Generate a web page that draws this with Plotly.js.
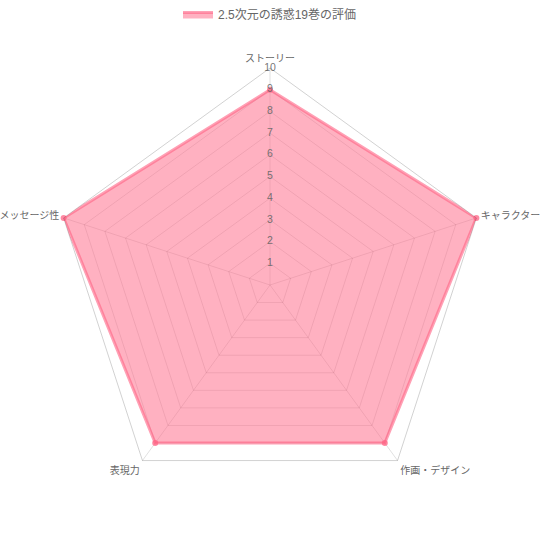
<!DOCTYPE html>
<html><head><meta charset="utf-8">
<script src="https://cdn.plot.ly/plotly-3.0.1.min.js"></script>
<style>html,body{margin:0;padding:0;background:#fff}#chart{width:540px;height:540px}</style>
</head><body><div id="chart"></div>
<script>
const categories = ['ストーリー', 'キャラクター', '作画・デザイン', '表現力', 'メッセージ性'];
const values = [9, 10, 9, 9, 10];
const seriesName = '2.5次元の誘惑19巻の評価';
const tickValues = [1, 2, 3, 4, 5, 6, 7, 8, 9, 10];
const tickLabels = ['1', '2', '3', '4', '5', '6', '7', '8', '9', '10'];

const font = '"Liberation Sans", Arial, "Noto Sans CJK JP", sans-serif';
const gridCol = 'rgba(0,0,0,0.12)';

const data = [
  {
    type: 'scatterpolar',
    r: values.concat([values[0]]),
    theta: categories.concat([categories[0]]),
    name: seriesName,
    mode: 'lines',
    fill: 'toself',
    fillcolor: 'rgba(255,99,132,0.5)',
    line: {color: 'rgba(255,99,132,0.6)', width: 3},
    hoverinfo: 'skip'
  },
  {
    type: 'scatterpolar',
    r: values,
    theta: categories,
    mode: 'markers',
    marker: {color: 'rgba(255,99,132,0.75)', size: 6},
    showlegend: false,
    hoverinfo: 'skip'
  },
  {
    type: 'scatterpolar',
    r: tickValues,
    theta: tickValues.map(() => categories[0]),
    text: tickLabels,
    mode: 'text',
    textposition: 'middle center',
    textfont: {family: font, size: 10.5, color: 'rgba(102,102,102,0.9)'},
    showlegend: false,
    hoverinfo: 'skip',
    cliponaxis: false
  }
];

const layout = {
  width: 540, height: 540,
  margin: {l: 53, r: 53, t: 68, b: 38},
  paper_bgcolor: '#fff',
  font: {family: font, color: '#666', size: 12},
  showlegend: true,
  legend: {
    orientation: 'h', x: 0.5, xanchor: 'center',
    yref: 'container', y: 1, yanchor: 'top',
    font: {family: font, size: 12, color: '#666'}
  },
  polar: {
    domain: {x: [0, 1], y: [0, 1]},
    bgcolor: '#fff',
    gridshape: 'linear',
    radialaxis: {
      range: [0, 10], dtick: 1, tick0: 0,
      showticklabels: false, ticks: '',
      showline: false, gridcolor: gridCol, gridwidth: 1
    },
    angularaxis: {
      rotation: 90, direction: 'clockwise',
      showline: true, linecolor: 'rgba(0,0,0,0.18)', linewidth: 1,
      gridcolor: gridCol, ticks: 'outside', ticklen: 2, tickcolor: 'rgba(0,0,0,0)',
      tickfont: {family: font, size: 10, color: '#666'}
    }
  }
};

Plotly.newPlot('chart', data, layout, {displayModeBar: false, staticPlot: true});
</script>
</body></html>
